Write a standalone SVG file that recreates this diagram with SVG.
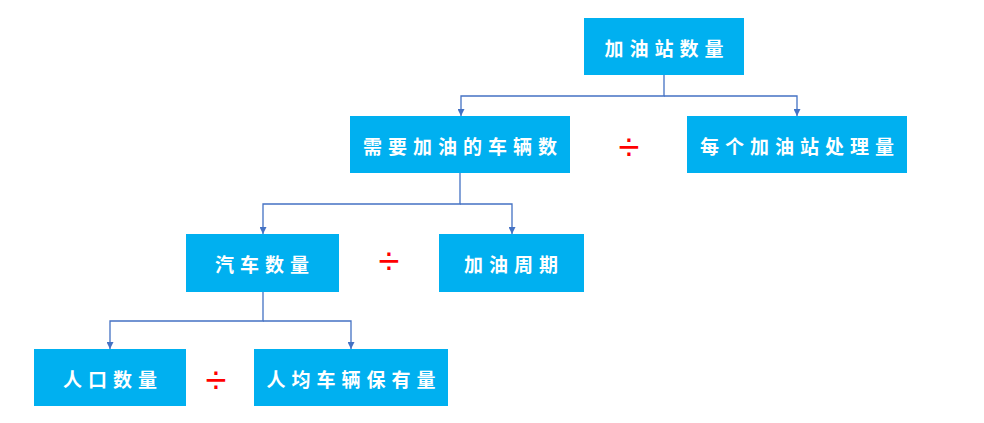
<svg xmlns="http://www.w3.org/2000/svg" width="984" height="423" viewBox="0 0 984 423">
<style>
.box{fill:#00B0F0;}
.lbl{fill:#FFFFFF;font-family:"Noto Sans CJK SC","Noto Sans CJK JP",sans-serif;font-size:19px;font-weight:bold;text-anchor:middle;dominant-baseline:central;letter-spacing:6px;}
.div{fill:#FF0000;font-family:"Liberation Sans",sans-serif;font-size:38px;text-anchor:middle;dominant-baseline:central;}
.con{fill:none;stroke:#4472C4;stroke-width:1.3;}
</style>
<defs>
<marker id="arr" viewBox="0 0 10 10" refX="10" refY="5" markerWidth="7" markerHeight="7" markerUnits="userSpaceOnUse" orient="auto">
<path d="M0,0 L10,5 L0,10 z" fill="#4472C4"/>
</marker>
</defs>
<g id="connectors">
<path class="con" d="M664,75 V96 H461 V116" marker-end="url(#arr)"/>
<path class="con" d="M664,96 H797 V116" marker-end="url(#arr)"/>
<path class="con" d="M460,173 V204 H263 V234" marker-end="url(#arr)"/>
<path class="con" d="M460,204 H512 V234" marker-end="url(#arr)"/>
<path class="con" d="M263,292 V321 H110 V349" marker-end="url(#arr)"/>
<path class="con" d="M263,321 H351 V349" marker-end="url(#arr)"/>
</g>
<g id="n1"><rect class="box" x="584" y="18" width="160" height="57"/><text class="lbl" x="667" y="47">加油站数量</text></g>
<g id="n2"><rect class="box" x="350" y="116" width="220" height="57"/><text class="lbl" x="463" y="145">需要加油的车辆数</text></g>
<g id="n3"><rect class="box" x="687" y="116" width="220" height="57"/><text class="lbl" x="800" y="145">每个加油站处理量</text></g>
<g id="n4"><rect class="box" x="186" y="234" width="153" height="58"/><text class="lbl" x="265" y="263">汽车数量</text></g>
<g id="n5"><rect class="box" x="439" y="234" width="145" height="58"/><text class="lbl" x="514" y="263">加油周期</text></g>
<g id="n6"><rect class="box" x="34" y="349" width="152" height="57"/><text class="lbl" x="113" y="378">人口数量</text></g>
<g id="n7"><rect class="box" x="254" y="349" width="194" height="57"/><text class="lbl" x="354" y="378">人均车辆保有量</text></g>
<g id="ops">
<text class="div" x="629" y="147">÷</text>
<text class="div" x="389" y="261">÷</text>
<text class="div" x="216" y="380">÷</text>
</g>
</svg>
